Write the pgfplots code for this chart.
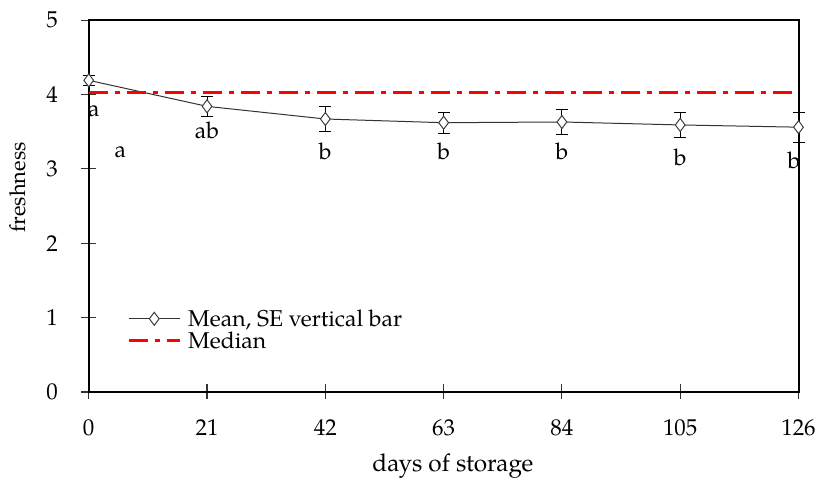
\documentclass[border=0pt]{standalone}
\usepackage{fontspec}
\setmainfont{TeX Gyre Pagella}
\usepackage{pgfplots}
\pgfplotsset{compat=1.18}
\begin{document}
\begin{tikzpicture}
\begin{axis}[
    scale only axis,
    width=710bp, height=372bp,
    xmin=0, xmax=126, ymin=0, ymax=5,
    xtick={0,21,42,63,84,105,126},
    ytick={0,1,2,3,4,5},
    xtick pos=bottom, ytick pos=left,
    tick align=center,
    major tick length=15bp,
    major tick style={black!80, line width=1.1bp},
    axis line style={black, line width=2bp},
    /pgf/number format/assume math mode=true,
    font=\fontsize{23}{27}\selectfont,
    xticklabel style={yshift=-17bp},
    yticklabel style={xshift=-20bp},
    xlabel={days of storage},
    ylabel={freshness},
    xlabel style={at={(axis description cs:0.513,-0.2)}, anchor=center,
        font=\fontsize{24.5}{28}\selectfont},
    ylabel style={at={(axis description cs:-0.1,0.55)}, anchor=center,
        font=\fontsize{22}{26}\selectfont},
    legend style={draw=none, fill=none, at={(0.054,0.167)}, anchor=west,
        font=\fontsize{23}{27}\selectfont, row sep=0bp, inner xsep=0pt,
        /tikz/every odd column/.append style={column sep=5bp}},
    legend cell align=left,
    legend image code/.code={\draw[mark repeat=2,mark phase=2,#1] plot coordinates {(0cm,0cm)(0.9cm,0cm)(1.8cm,0cm)};},
    clip=false,
]
\addplot[black!80, line width=1bp, mark=diamond*,
    mark size=6.5bp, mark options={fill=white, draw=black!75, line width=1bp},
    error bars/.cd, y dir=both, y explicit, error mark=-,
    error bar style={black, line width=1bp},
    error mark options={rotate=90, black, line width=1bp, mark size=6bp}]
coordinates {
    (0,4.19) +- (0,0.07)
    (21,3.84) +- (0,0.13)
    (42,3.67) +- (0,0.17)
    (63,3.62) +- (0,0.14)
    (84,3.63) +- (0,0.17)
    (105,3.59) +- (0,0.17)
    (126,3.56) +- (0,0.20)
};
\addlegendentry{Mean, SE vertical bar}
\addplot[red, line width=3bp, dash pattern=on 19bp off 7bp on 5bp off 7bp]
coordinates {(0,4.02) (126,4.02)};
\addlegendentry{Median}
\path (axis description cs:-0.125,1.054) (axis description cs:-0.125,-0.213);
\node[font=\fontsize{23}{27}\selectfont] at (axis cs:0.9,3.78) {a};
\node[font=\fontsize{23}{27}\selectfont] at (axis cs:5.6,3.22) {a};
\node[font=\fontsize{23}{27}\selectfont] at (axis cs:21,3.52) {ab};
\node[font=\fontsize{23}{27}\selectfont] at (axis cs:42,3.23) {b};
\node[font=\fontsize{23}{27}\selectfont] at (axis cs:63,3.23) {b};
\node[font=\fontsize{23}{27}\selectfont] at (axis cs:84,3.23) {b};
\node[font=\fontsize{23}{27}\selectfont] at (axis cs:105,3.15) {b};
\node[font=\fontsize{23}{27}\selectfont] at (axis cs:125.2,3.12) {b};
\end{axis}
\end{tikzpicture}
\end{document}
